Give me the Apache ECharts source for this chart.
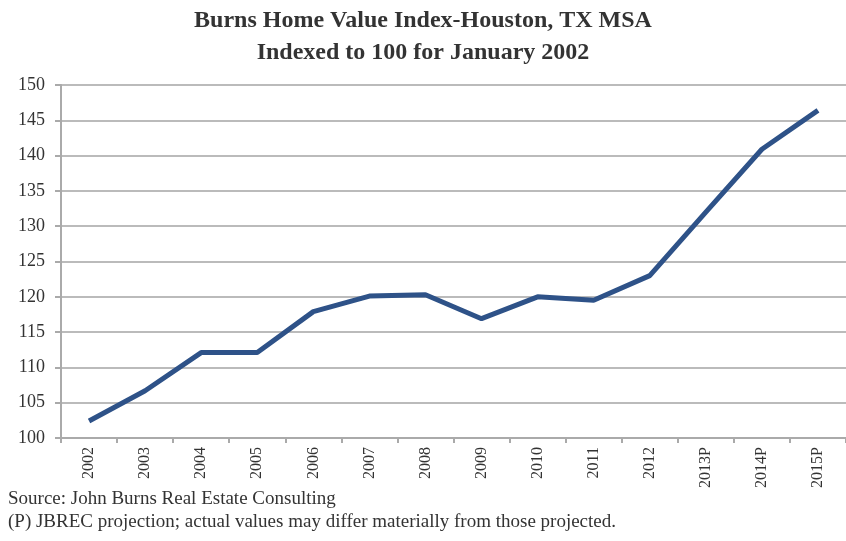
<!DOCTYPE html>
<html>
<head>
<meta charset="utf-8">
<script src="https://cdn.jsdelivr.net/npm/echarts@6/dist/echarts.min.js"></script>
<style>
  html, body { margin: 0; padding: 0; background: #fff; }
  #chart { width: 846px; height: 541px; }
</style>
</head>
<body>
<div id="chart"></div>
<script>
// data
var years = ['2002', '2003', '2004', '2005', '2006', '2007', '2008', '2009',
             '2010', '2011', '2012', '2013P', '2014P', '2015P'];
var indexValues = [102.4, 106.7, 112.1, 112.1, 117.9, 120.1, 120.3, 116.9,
                   120.0, 119.5, 123.0, 132.0, 140.9, 146.4];

var serif = 'Liberation Serif';
var chart = echarts.init(document.getElementById('chart'));

chart.setOption({
    animation: false,
    title: {
        text: 'Burns Home Value Index-Houston, TX MSA\nIndexed to 100 for January 2002',
        left: 'center',
        top: 0,
        textStyle: {
            fontFamily: serif,
            fontWeight: 'bold',
            fontSize: 24,
            lineHeight: 32,
            color: '#333'
        }
    },
    graphic: [
        {
            type: 'text', left: 8, top: 490,
            style: { text: 'Source: John Burns Real Estate Consulting', font: '19px "Liberation Serif"', fill: '#333' }
        },
        {
            type: 'text', left: 8, top: 513,
            style: { text: '(P) JBREC projection; actual values may differ materially from those projected.', font: '19px "Liberation Serif"', fill: '#333' }
        }
    ],
    grid: { left: 61, right: -10, top: 85, bottom: 103 },
    xAxis: {
        type: 'category',
        data: years,
        boundaryGap: true,
        axisLine: { lineStyle: { color: '#aaa', width: 2 } },
        axisTick: { show: true, length: 5, lineStyle: { color: '#aaa', width: 2 } },
        axisLabel: { rotate: 90, fontFamily: serif, fontSize: 16, color: '#333', margin: 9 }
    },
    yAxis: {
        type: 'value',
        min: 100,
        max: 150,
        interval: 5,
        axisLine: { show: true, lineStyle: { color: '#aaa', width: 2 } },
        axisTick: { show: true, length: 6, lineStyle: { color: '#aaa', width: 2 } },
        splitLine: { lineStyle: { color: '#bbb', width: 2 } },
        axisLabel: { fontFamily: serif, fontSize: 18, color: '#333', margin: 16 }
    },
    series: [{
        type: 'line',
        data: indexValues,
        symbol: 'none',
        lineStyle: { color: '#2e5288', width: 5 }
    }]
});
</script>
</body>
</html>
